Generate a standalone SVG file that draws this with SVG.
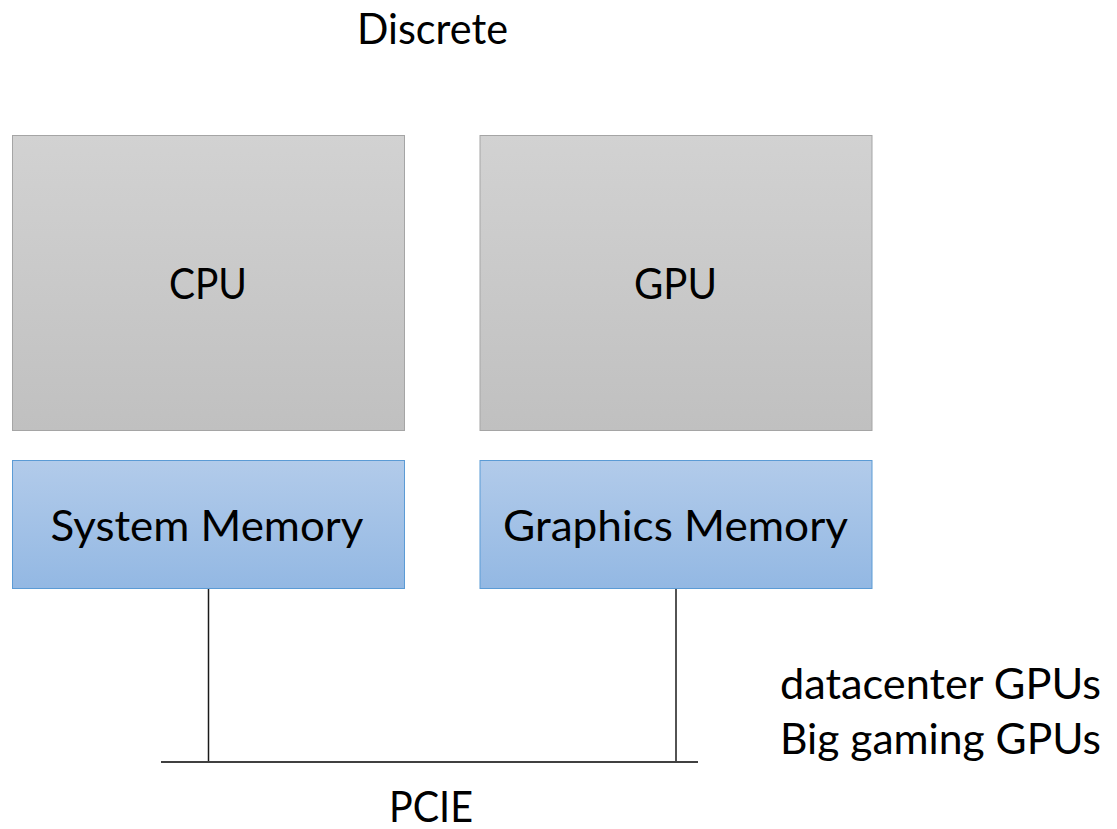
<svg xmlns="http://www.w3.org/2000/svg" width="1117" height="829" viewBox="0 0 1117 829">
<defs>
<linearGradient id="gray" x1="0" y1="0" x2="0" y2="1">
<stop offset="0" stop-color="#d2d2d2"/>
<stop offset="1" stop-color="#c0c0c0"/>
</linearGradient>
<linearGradient id="blue" x1="0" y1="0" x2="0" y2="1">
<stop offset="0" stop-color="#b2cbea"/>
<stop offset="1" stop-color="#93b8e3"/>
</linearGradient>
<style>
text{font-family:Lato,"Open Sans","Liberation Sans",sans-serif;font-size:42px;fill:#000}
.gbox{fill:url(#gray);stroke:#a5a5a5;stroke-width:1}
.bbox{fill:url(#blue);stroke:#5b9bd5;stroke-width:1}
.wire{stroke:#1a1a1a;stroke-width:1.5;fill:none}
.bus{stroke:#404040;stroke-width:2;fill:none}
</style>
</defs>
<rect width="1117" height="829" fill="#ffffff"/>
<text id="title" x="432.5" y="44" text-anchor="middle" textLength="151" lengthAdjust="spacingAndGlyphs">Discrete</text>
<g id="connectors">
<line class="wire" x1="208.5" y1="588" x2="208.5" y2="762"/>
<line class="wire" x1="676" y1="588" x2="676" y2="762"/>
<line class="bus" x1="161" y1="762" x2="698" y2="762"/>
</g>
<g id="cpu">
<rect class="gbox" x="12.5" y="135.5" width="392" height="295"/>
<text x="208" y="299" text-anchor="middle" textLength="78" lengthAdjust="spacingAndGlyphs">CPU</text>
</g>
<g id="gpu">
<rect class="gbox" x="480" y="135.5" width="392" height="295"/>
<text x="675.5" y="299" text-anchor="middle" textLength="83" lengthAdjust="spacingAndGlyphs">GPU</text>
</g>
<g id="system-memory">
<rect class="bbox" x="12.5" y="460.5" width="392" height="128"/>
<text x="207" y="540.5" text-anchor="middle" textLength="313" lengthAdjust="spacingAndGlyphs">System Memory</text>
</g>
<g id="graphics-memory">
<rect class="bbox" x="480" y="460.5" width="392" height="128"/>
<text x="675.5" y="540.5" text-anchor="middle" textLength="345" lengthAdjust="spacingAndGlyphs">Graphics Memory</text>
</g>
<g id="pcie">
<text x="431" y="822" text-anchor="middle" textLength="84" lengthAdjust="spacingAndGlyphs">PCIE</text>
</g>
<g id="note">
<text x="780" y="699" textLength="321" lengthAdjust="spacingAndGlyphs">datacenter GPUs</text>
<text x="780" y="754" textLength="321" lengthAdjust="spacingAndGlyphs">Big gaming GPUs</text>
</g>
</svg>
